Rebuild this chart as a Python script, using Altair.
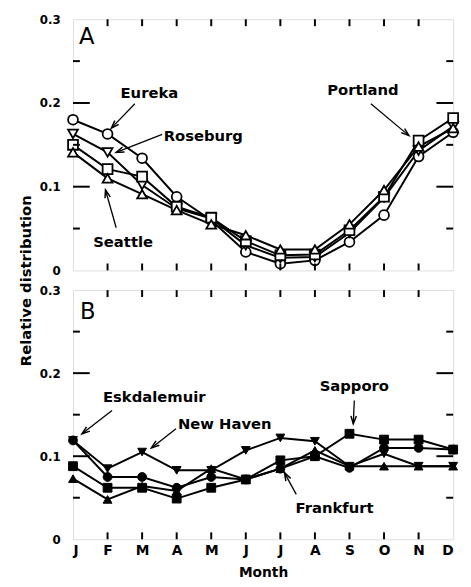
import math
import json
import altair as alt
import pandas as pd

months = ["J", "F", "M", "A", "M", "J", "J", "A", "S", "O", "N", "D"]

# Panel A stations (open markers)
stations_a = ["Eureka", "Roseburg", "Portland", "Seattle"]
shapes_a = ["circle", "triangle-down", "square", "triangle-up"]
eureka = [0.180, 0.163, 0.134, 0.088, 0.060, 0.022, 0.008, 0.012, 0.034, 0.066, 0.136, 0.165]
roseburg = [0.163, 0.141, 0.102, 0.074, 0.062, 0.030, 0.015, 0.016, 0.045, 0.087, 0.143, 0.172]
portland = [0.150, 0.121, 0.112, 0.076, 0.063, 0.035, 0.018, 0.019, 0.048, 0.088, 0.155, 0.182]
seattle = [0.141, 0.110, 0.091, 0.072, 0.055, 0.042, 0.025, 0.025, 0.055, 0.096, 0.148, 0.170]

# Panel B stations (filled markers)
stations_b = ["Eskdalemuir", "New Haven", "Sapporo", "Frankfurt"]
shapes_b = ["square", "triangle-up", "circle", "triangle-down"]
eskdalemuir = [0.119, 0.075, 0.075, 0.062, 0.075, 0.072, 0.085, 0.100, 0.086, 0.110, 0.110, 0.108]
new_haven = [0.119, 0.085, 0.105, 0.083, 0.083, 0.107, 0.122, 0.118, 0.088, 0.103, 0.088, 0.088]
sapporo = [0.088, 0.062, 0.062, 0.049, 0.062, 0.072, 0.095, 0.100, 0.127, 0.120, 0.120, 0.108]
frankfurt = [0.073, 0.048, 0.064, 0.058, 0.085, 0.072, 0.085, 0.107, 0.088, 0.088, 0.088, 0.088]

# Annotations: label text, label position (month index, value), arrow start, arrow tip
ann_a_text = ["Eureka", "Roseburg", "Portland", "Seattle"]
ann_a_pos = [(2.21, 0.212), (3.77, 0.161), (8.39, 0.216), (1.45, 0.034)]
ann_a_from = [(1.79, 0.199), (2.58, 0.1625), (8.62, 0.199), (1.25, 0.051)]
ann_a_to = [(1.11, 0.170), (1.25, 0.141), (9.72, 0.161), (0.94, 0.096)]

ann_b_text = ["Eskdalemuir", "New Haven", "Sapporo", "Frankfurt"]
ann_b_pos = [(2.35, 0.171), (4.39, 0.139), (8.14, 0.185), (7.57, 0.038)]
ann_b_from = [(1.13, 0.155), (2.98, 0.133), (8.14, 0.167), (6.46, 0.054)]
ann_b_to = [(0.26, 0.127), (2.27, 0.110), (8.11, 0.139), (6.12, 0.080)]

y_labels = [0, 0.1, 0.2, 0.3]
y_major = [0.1, 0.2]
y_minor = [0.05, 0.15, 0.25]
x_inner = list(range(1, 11))

W = 386
H_A = 255
H_B = 253
FONT = "DejaVu Sans"

ARROW_PATH = "M-0.45,1.3L0,0L0.45,1.3"


def long_df(names, series):
    rows = []
    for n, s in zip(names, series):
        for i, v in enumerate(s):
            rows.append({"station": n, "m": i, "v": v})
    return pd.DataFrame(rows)


def panel(df, names, shapes, filled, letter, letter_pos, a_text, a_pos, a_from, a_to,
          H, show_x, y_title):
    if show_x:
        x_axis = alt.Axis(values=list(range(12)),
                          labelExpr=json.dumps(months) + "[datum.value]",
                          ticks=False, domain=False, grid=False,
                          labelFont=FONT, labelFontWeight="bold", labelFontSize=14,
                          labelColor="black", labelPadding=4,
                          title="Month", titleFont=FONT, titleFontWeight="bold",
                          titleFontSize=14, titleColor="black", titlePadding=9)
    else:
        x_axis = None
    X = alt.X("m:Q", scale=alt.Scale(domain=[0, 11], nice=False, zero=False), axis=x_axis)
    y_axis_kw = dict(values=y_labels,
                     labelExpr="datum.value == 0 ? '0' : format(datum.value, '.1f')",
                     ticks=False, domain=False, grid=False,
                     labelFont=FONT, labelFontWeight="bold", labelFontSize=12,
                     labelColor="black", labelPadding=13)
    if y_title:
        y_axis_kw.update(title="Relative distribution", titleFont=FONT,
                         titleFontWeight="bold", titleFontSize=15, titleColor="black",
                         titlePadding=6, titleY=H + 10)
    else:
        y_axis_kw.update(title=None)
    Y = alt.Y("v:Q", scale=alt.Scale(domain=[0, 0.3], nice=False), axis=alt.Axis(**y_axis_kw))

    lines = alt.Chart(df).mark_line(color="black", strokeWidth=2).encode(
        x=X, y=Y, detail="station:N")
    if filled:
        pts = alt.Chart(df).mark_point(filled=True, fill="black", stroke="black",
                                       strokeWidth=1, opacity=1, size=80)
    else:
        pts = alt.Chart(df).mark_point(filled=True, fill="white", stroke="black",
                                       strokeWidth=1.8, opacity=1, fillOpacity=1, size=100)
    pts = pts.encode(x=X, y=Y, shape=alt.Shape("station:N",
                                               scale=alt.Scale(domain=names, range=shapes),
                                               legend=None))

    ymaj = pd.DataFrame({"v": y_major})
    ymin = pd.DataFrame({"v": y_minor})
    xin = pd.DataFrame({"m": x_inner})
    tick_kw = dict(color="black", strokeWidth=2)
    ticks = [
        alt.Chart(ymaj).mark_rule(**tick_kw).encode(y=Y, x=alt.value(0), x2=alt.value(17)),
        alt.Chart(ymaj).mark_rule(**tick_kw).encode(y=Y, x=alt.value(W - 17), x2=alt.value(W)),
        alt.Chart(ymin).mark_rule(**tick_kw).encode(y=Y, x=alt.value(0), x2=alt.value(7)),
        alt.Chart(ymin).mark_rule(**tick_kw).encode(y=Y, x=alt.value(W - 7), x2=alt.value(W)),
        alt.Chart(xin).mark_rule(**tick_kw).encode(x=X, y=alt.value(0), y2=alt.value(7)),
        alt.Chart(xin).mark_rule(**tick_kw).encode(x=X, y=alt.value(H - 7), y2=alt.value(H)),
    ]

    tdf = pd.DataFrame({"t": a_text, "m": [p[0] for p in a_pos], "v": [p[1] for p in a_pos]})
    texts = alt.Chart(tdf).mark_text(font=FONT, fontWeight="bold", fontSize=15,
                                     color="black", align="center", baseline="middle").encode(
        x=X, y=Y, text="t:N")

    sx = W / 11.0
    sy = H / 0.3
    angles = []
    for (x1, y1), (x2, y2) in zip(a_from, a_to):
        dxs = (x2 - x1) * sx
        dys = -(y2 - y1) * sy
        ang = math.degrees(math.atan2(dxs, -dys)) % 360
        angles.append(ang)
    adf = pd.DataFrame({"m": [p[0] for p in a_from], "v": [p[1] for p in a_from],
                        "m2": [p[0] for p in a_to], "v2": [p[1] for p in a_to]})
    arrows = alt.Chart(adf).mark_rule(color="black", strokeWidth=1.3).encode(
        x=X, y=Y, x2="m2:Q", y2="v2:Q")
    hdf = pd.DataFrame({"m": [p[0] for p in a_to], "v": [p[1] for p in a_to], "a": angles})
    heads = alt.Chart(hdf).mark_point(shape=ARROW_PATH, filled=False, stroke="black",
                                      strokeWidth=1.5, size=150, opacity=1).encode(
        x=X, y=Y, angle=alt.Angle("a:Q", scale=None))

    ldf = pd.DataFrame({"t": [letter], "m": [letter_pos[0]], "v": [letter_pos[1]]})
    letter_mark = alt.Chart(ldf).mark_text(font=FONT, fontSize=23, color="black",
                                           align="center", baseline="middle").encode(
        x=X, y=Y, text="t:N")

    return alt.layer(lines, pts, *ticks, texts, arrows, heads, letter_mark).properties(
        width=W, height=H)


df_a = long_df(stations_a, [eureka, roseburg, portland, seattle])
df_b = long_df(stations_b, [eskdalemuir, new_haven, sapporo, frankfurt])

pa = panel(df_a, stations_a, shapes_a, False, "A", (0.4, 0.279),
           ann_a_text, ann_a_pos, ann_a_from, ann_a_to, H_A, False, True)
pb = panel(df_b, stations_b, shapes_b, True, "B", (0.43, 0.273),
           ann_b_text, ann_b_pos, ann_b_from, ann_b_to, H_B, True, False)

chart = alt.vconcat(pa, pb, spacing=20, bounds="flush").properties(
    padding={"left": 10, "top": 0, "right": 0, "bottom": 0}
).configure_view(stroke="black", strokeWidth=2.5).configure(background="white")

chart.save("out.html", embed_options={"renderer": "svg", "actions": False})
